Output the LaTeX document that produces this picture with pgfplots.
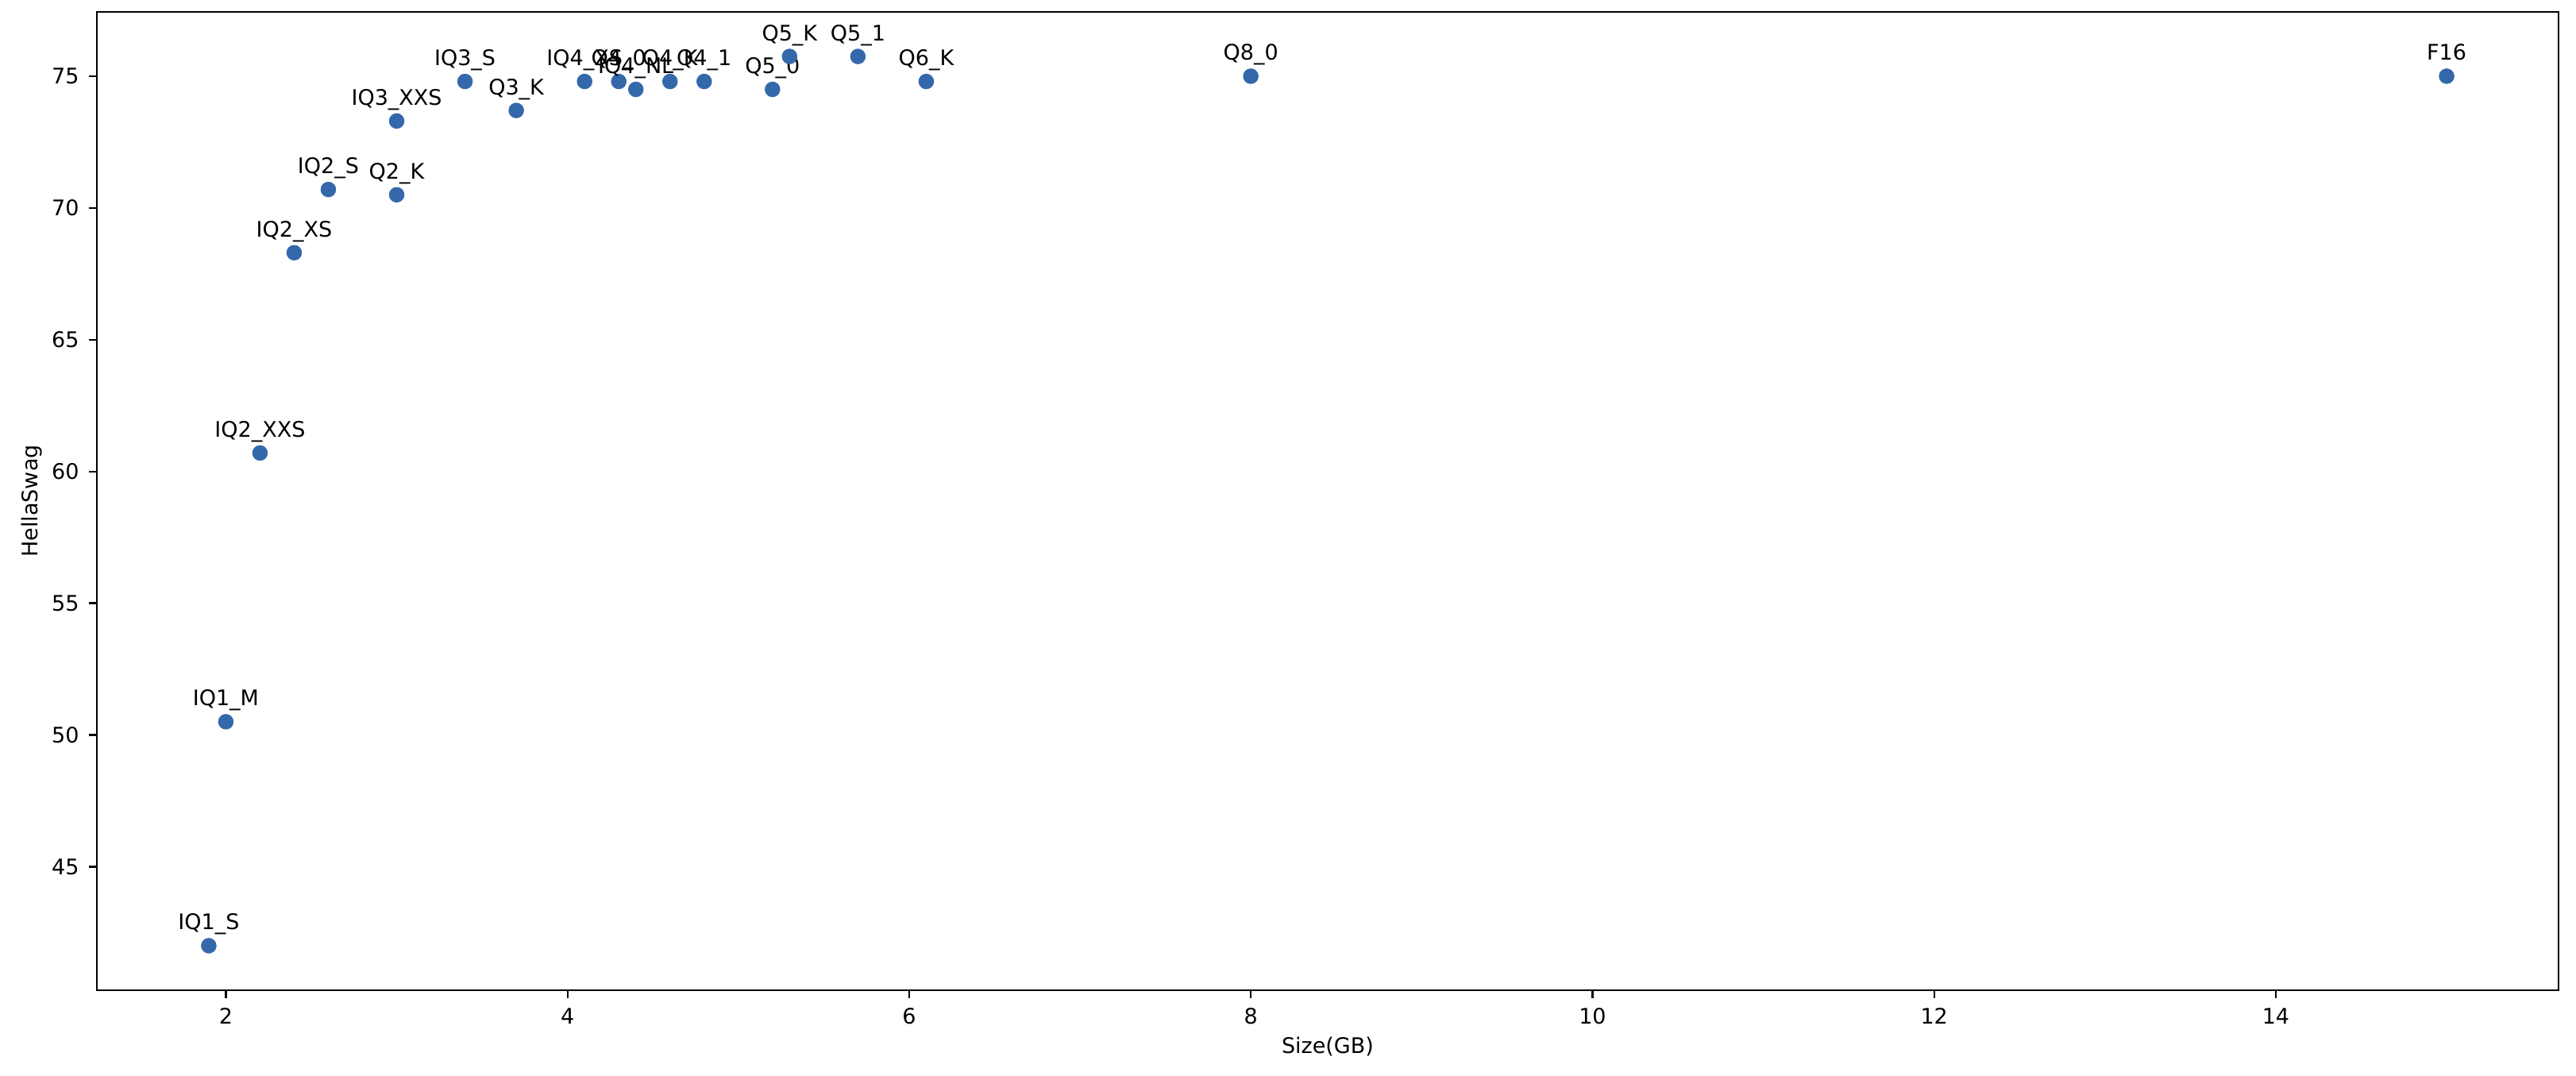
\documentclass[border=0pt]{standalone}
\usepackage{fontspec}
\setmainfont{DejaVu Sans}
\usepackage{pgfplots}
\pgfplotsset{compat=1.18}
\definecolor{dotblue}{RGB}{52,104,170}
\begin{document}
\fontsize{10.8}{13}\selectfont
\begin{tikzpicture}
\begin{axis}[
scale only axis,
width=1240pt, height=492.8pt,
xmin=1.245, xmax=15.655,
ymin=40.31, ymax=77.44,
xtick={2,4,6,8,10,12,14},
ytick={45,50,55,60,65,70,75},
xtick pos=lower, ytick pos=left,
tick align=outside,
major tick length=3.9pt,
axis line style={line width=0.9pt},
every tick/.style={black, line width=0.9pt},
/pgf/number format/assume math mode=true,
tick label style={font=\fontsize{10.8}{13}\selectfont, inner sep=0pt},
xticklabel style={anchor=north, yshift=-5pt},
yticklabel style={anchor=east, xshift=-4.9pt},
xlabel={Size(GB)},
ylabel={HellaSwag},
label style={font=\fontsize{10.8}{13}\selectfont},
xlabel style={at={(axis description cs:0.5,0)}, anchor=center, yshift=-28.4pt},
ylabel style={at={(axis description cs:0,0.5)}, anchor=center, rotate=0, yshift=32.8pt},
nodes near coords,
point meta=explicit symbolic,
every node near coord/.style={anchor=base, yshift=8pt, inner sep=0pt, text=black, font=\fontsize{10.8}{13}\selectfont},
clip=false,
]
\addplot[only marks, mark=*, mark size=3.7pt, mark options={fill=dotblue, draw=dotblue}]
coordinates {
(1.9,42.0)[IQ1\_S]
(2.0,50.5)[IQ1\_M]
(2.2,60.7)[IQ2\_XXS]
(2.4,68.3)[IQ2\_XS]
(2.6,70.7)[IQ2\_S]
(3.0,70.5)[Q2\_K]
(3.0,73.3)[IQ3\_XXS]
(3.4,74.8)[IQ3\_S]
(3.7,73.7)[Q3\_K]
(4.1,74.8)[IQ4\_XS]
(4.3,74.8)[Q4\_0]
(4.4,74.5)[IQ4\_NL]
(4.6,74.8)[Q4\_K]
(4.8,74.8)[Q4\_1]
(5.2,74.5)[Q5\_0]
(5.3,75.75)[Q5\_K]
(5.7,75.75)[Q5\_1]
(6.1,74.8)[Q6\_K]
(8.0,75.0)[Q8\_0]
(15.0,75.0)[F16]
};
\end{axis}
\path (current axis.south west) ++(-48.8pt,-42.8pt) rectangle ++(1297.6pt,541.6pt);
\end{tikzpicture}
\end{document}
